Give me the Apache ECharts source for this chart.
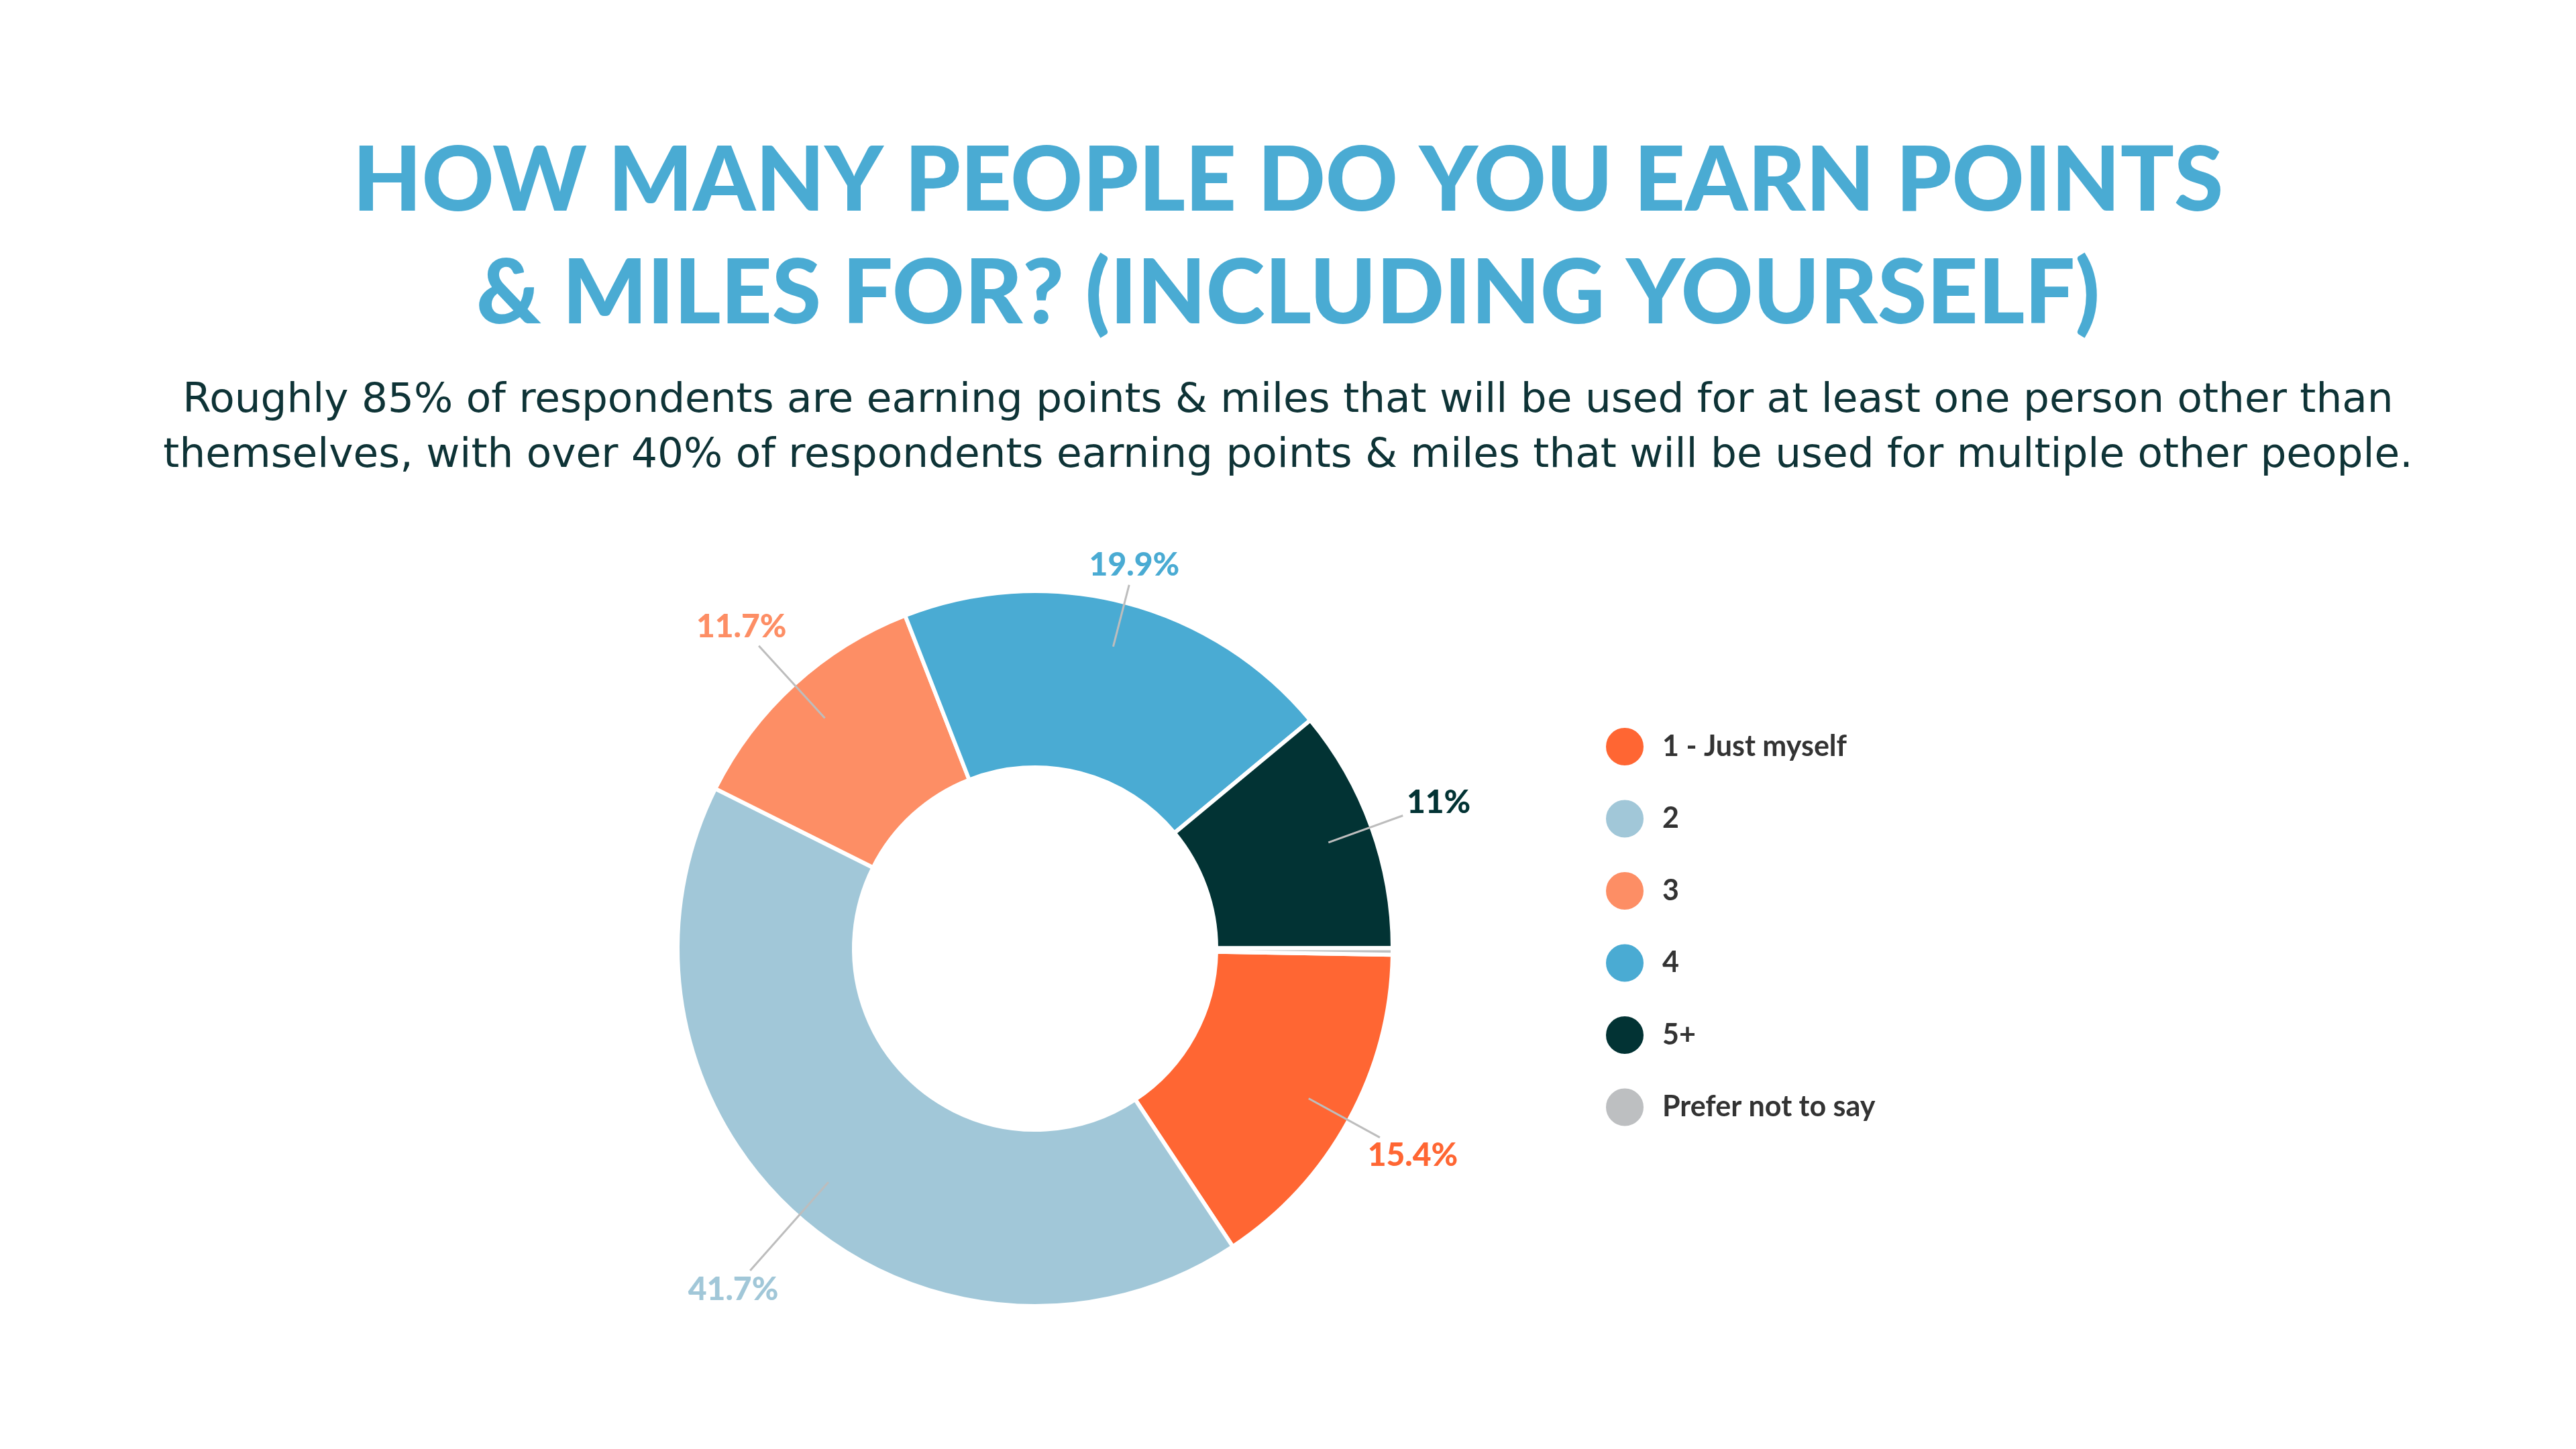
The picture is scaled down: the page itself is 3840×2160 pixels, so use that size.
<!DOCTYPE html>
<html>
<head>
<meta charset="utf-8">
<script src="https://cdn.jsdelivr.net/npm/echarts@6/dist/echarts.min.js"></script>
<style>
html,body{margin:0;padding:0;background:#fff;}
#chart{width:3840px;height:2160px;}
</style>
</head>
<body>
<div id="chart"></div>
<script>
const titleText = "HOW MANY PEOPLE DO YOU EARN POINTS\n& MILES FOR? (INCLUDING YOURSELF)";
const subtitleText = "Roughly 85% of respondents are earning points & miles that will be used for at least one person other than\nthemselves, with over 40% of respondents earning points & miles that will be used for multiple other people.";
const categories = ["1 - Just myself", "2", "3", "4", "5+", "Prefer not to say"];
const values = [15.4, 41.7, 11.7, 19.9, 11, 0.3];
const colors = ["#FF6633", "#A1C7D8", "#FD8E65", "#4AABD3", "#023334", "#BDBFC1"];
const showLabel = [true, true, true, true, true, false];
// leader-line lengths (style only)
const leaderLengths = [121, 176, 146, 95, 118, 100];

const chart = echarts.init(document.getElementById('chart'));

const ringData = categories.map((c, i) => ({
  name: c, value: values[i],
  itemStyle: { color: colors[i] }
}));
const labelData = categories.map((c, i) => ({
  name: c, value: values[i],
  label: { show: showLabel[i], color: colors[i] },
  labelLine: { show: showLabel[i], length: leaderLengths[i], length2: 0 }
}));

const center = [1543, 1414];

function placeLabel(params) {
  const pts = params.labelLinePoints;
  if (!pts || !pts.length) return {};
  const end = pts[pts.length - 1];
  let dx = end[0] - center[0], dy = end[1] - center[1];
  const len = Math.hypot(dx, dy) || 1;
  dx /= len; dy /= len;
  const w = params.labelRect.width, h = params.labelRect.height;
  const tx = Math.abs(dx) > 1e-6 ? (w / 2) / Math.abs(dx) : Infinity;
  const ty = Math.abs(dy) > 1e-6 ? (h / 2) / Math.abs(dy) : Infinity;
  const t = Math.min(tx, ty) + 6;
  return {
    x: end[0] + dx * t,
    y: end[1] + dy * t,
    align: 'center',
    verticalAlign: 'middle',
    labelLinePoints: pts
  };
}

chart.setOption({
  backgroundColor: '#ffffff',
  animation: false,
  title: [
    {
      text: titleText,
      left: 'center',
      top: 182,
      textStyle: {
        fontFamily: 'Lato', fontWeight: 900, fontSize: 133, lineHeight: 168, color: '#4AABD3', align: 'center'
      }
    },
    {
      text: subtitleText,
      left: 'center',
      top: 552,
      textStyle: {
        fontFamily: 'DejaVu Sans', fontWeight: 400, fontSize: 61.3, lineHeight: 82, color: '#0E3336', align: 'center'
      }
    }
  ],
  legend: {
    orient: 'vertical',
    left: 2387,
    top: 1078,
    icon: 'circle',
    itemWidth: 58,
    itemHeight: 58,
    itemGap: 47.5,
    data: categories,
    selectedMode: false,
    textStyle: {
      fontFamily: 'Lato', fontWeight: 'bold', fontSize: 43, color: '#333333',
      padding: [0, 0, 0, 22]
    }
  },
  series: [
    {
      type: 'pie',
      name: 'ring',
      center: center,
      radius: [270, 533],
      startAngle: -1,
      clockwise: true,
      avoidLabelOverlap: false,
      silent: true,
      label: { show: false },
      labelLine: { show: false },
      itemStyle: { borderColor: '#ffffff', borderWidth: 6 },
      data: ringData
    },
    {
      type: 'pie',
      name: 'labels',
      center: center,
      radius: [0, 465],
      startAngle: -1,
      clockwise: true,
      avoidLabelOverlap: false,
      silent: true,
      legendHoverLink: false,
      z: 5,
      itemStyle: { color: 'rgba(0,0,0,0)' },
      label: {
        show: true,
        position: 'outside',
        formatter: p => p.value + '%',
        fontFamily: 'Lato', fontWeight: 900, fontSize: 48
      },
      labelLine: {
        show: true,
        lineStyle: { color: '#BDBDBD', width: 3 }
      },
      labelLayout: placeLabel,
      data: labelData
    }
  ]
});
</script>
</body>
</html>
